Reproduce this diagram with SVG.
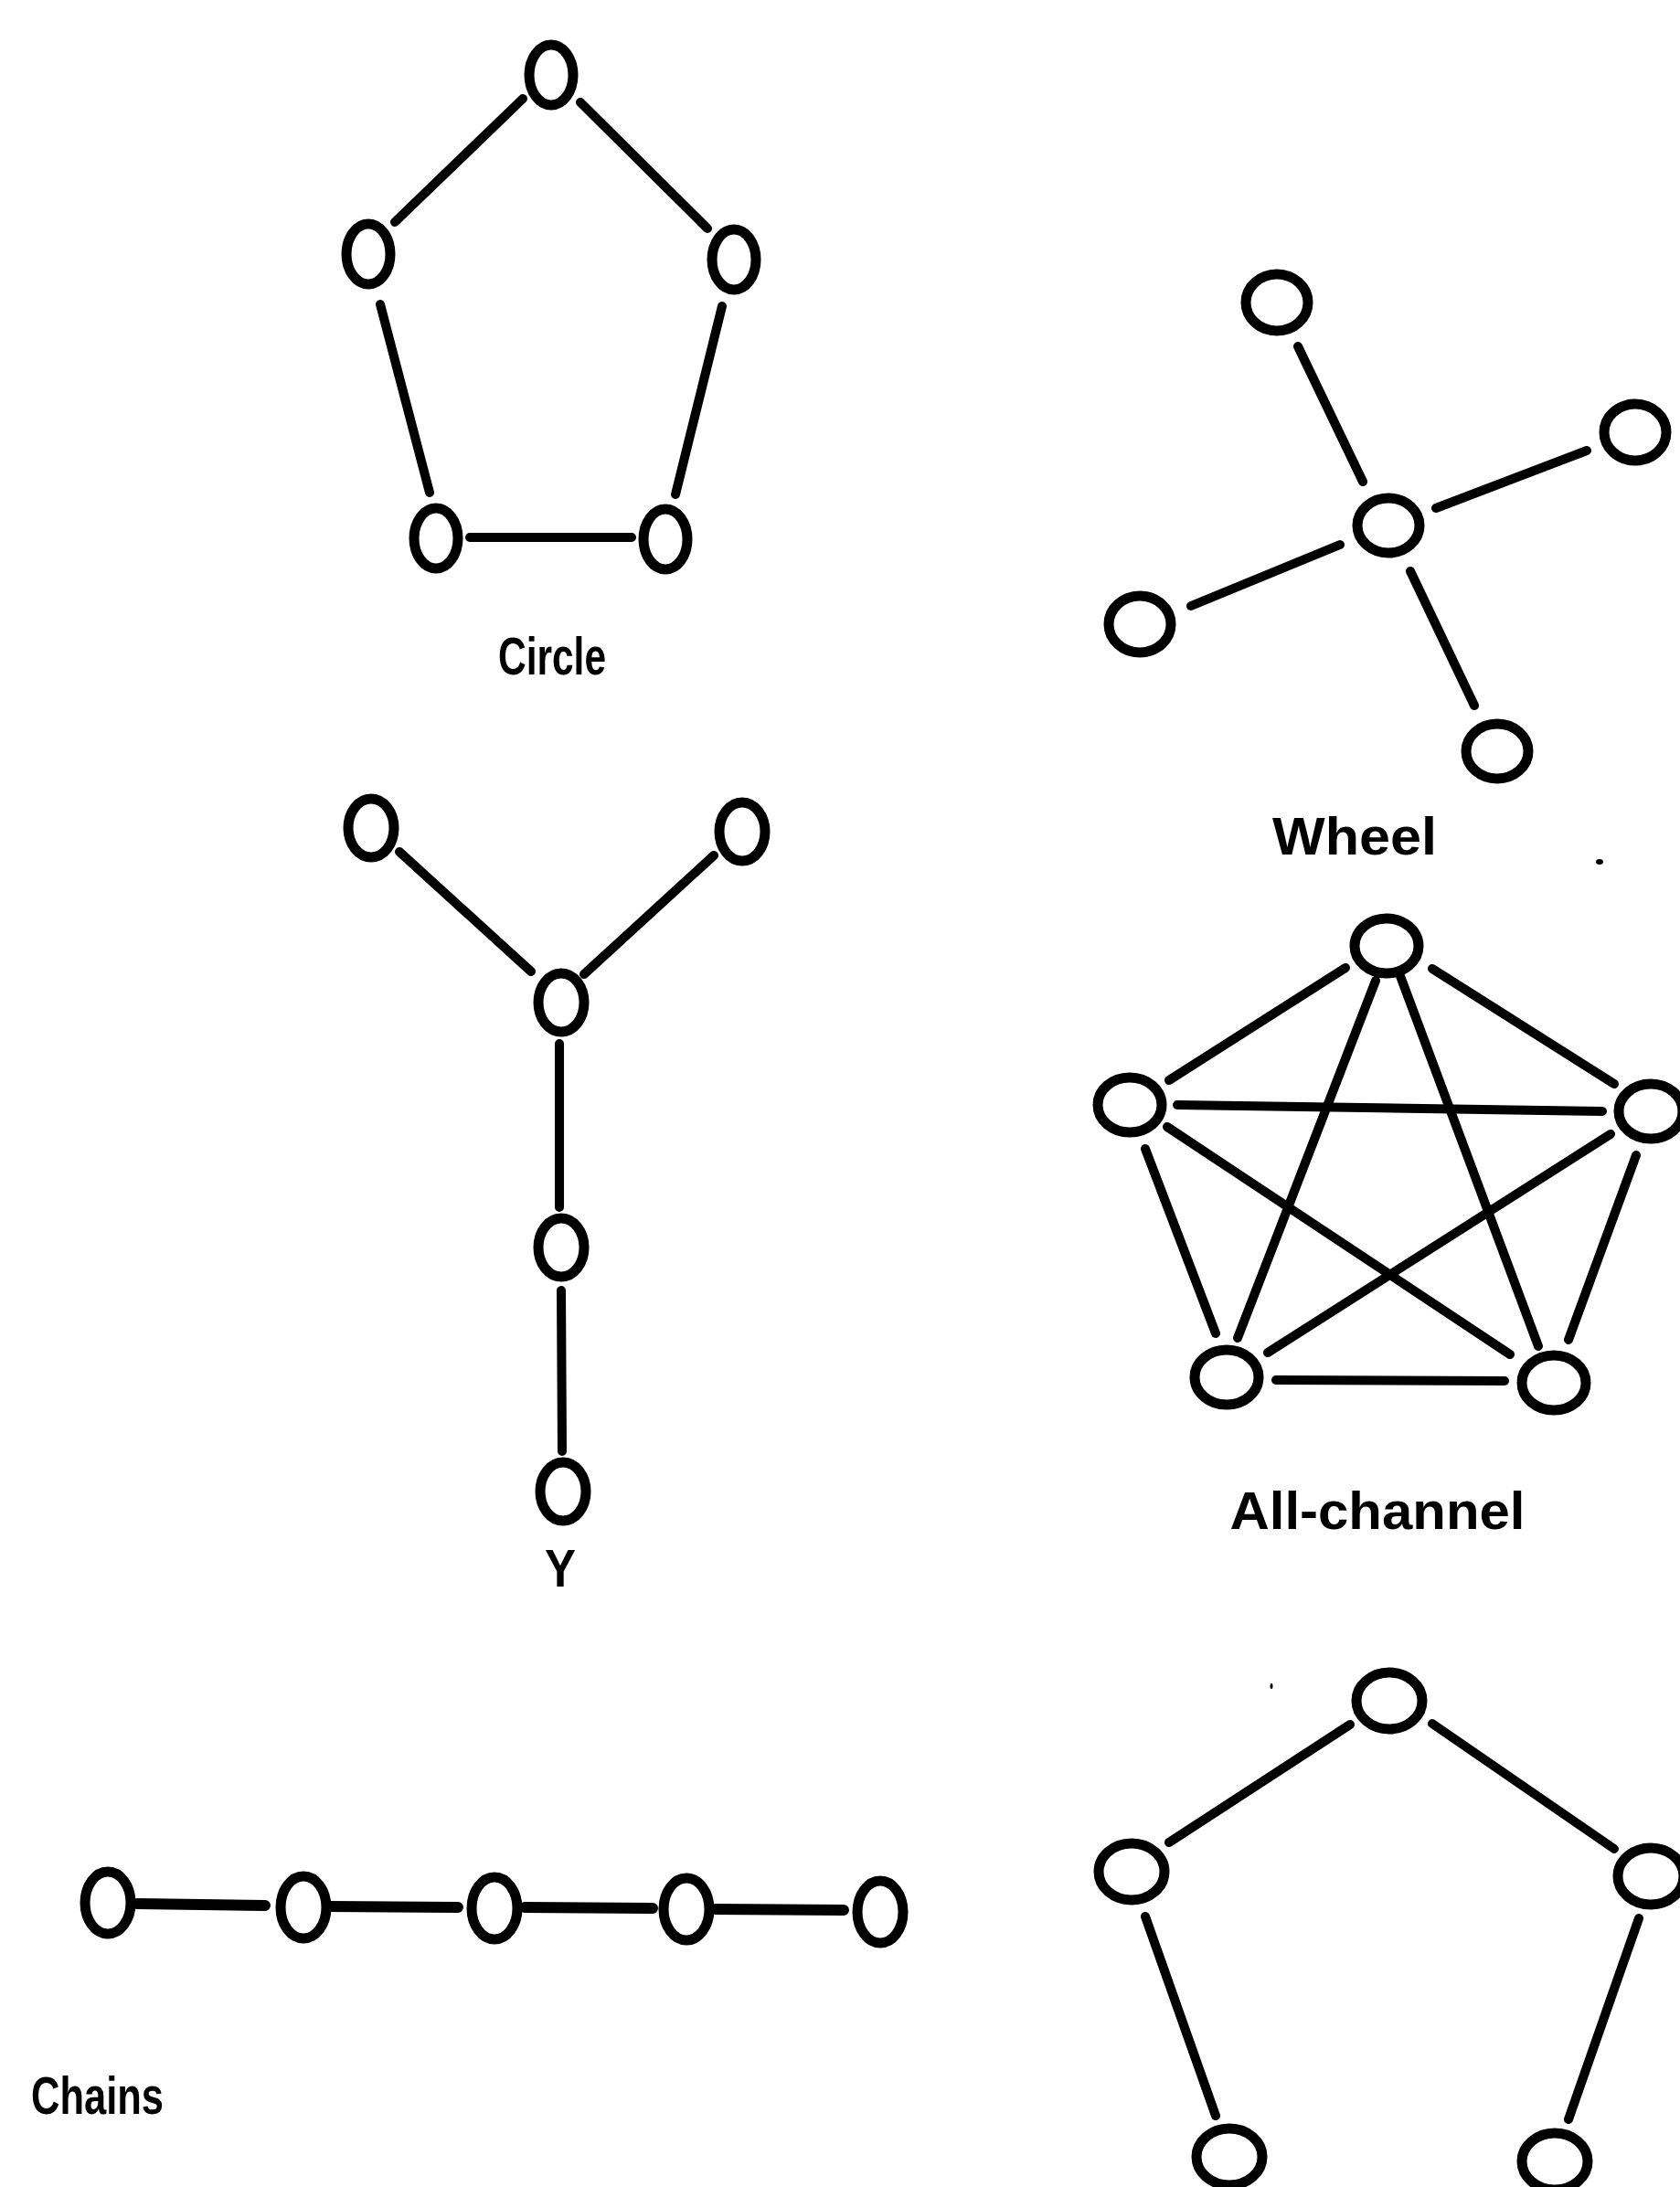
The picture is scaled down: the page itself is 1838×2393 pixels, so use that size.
<svg xmlns="http://www.w3.org/2000/svg" width="1838" height="2393" viewBox="0 0 1838 2393">
  <style>
    .node { fill: none; stroke: #000; stroke-width: 11; }
    .edge { fill: none; stroke: #000; stroke-width: 10; stroke-linecap: round; }
    .edge.heavy { stroke-width: 12; }
    .label { font-family: "Liberation Sans", Arial, sans-serif; font-weight: bold; font-size: 58px; fill: #000; }
    .speck { fill: #000; }
  </style>
  <rect x="0" y="0" width="1838" height="2393" fill="#fff"/>

  <!-- all connectors -->
  <g id="connectors">
    <!-- circle network -->
    <line class="edge" x1="572" y1="108" x2="432" y2="243"/>
    <line class="edge" x1="635" y1="112" x2="774" y2="250"/>
    <line class="edge" x1="416" y1="333" x2="470" y2="539"/>
    <line class="edge" x1="790" y1="335" x2="739" y2="541"/>
    <line class="edge" x1="514" y1="588" x2="691" y2="588"/>
    <!-- wheel network -->
    <line class="edge" x1="1420" y1="379" x2="1491" y2="527"/>
    <line class="edge" x1="1571" y1="556" x2="1736" y2="493"/>
    <line class="edge" x1="1303" y1="663" x2="1466" y2="596"/>
    <line class="edge" x1="1543" y1="625" x2="1613" y2="772"/>
    <!-- all-channel network -->
    <line class="edge" x1="1472" y1="1059" x2="1279" y2="1182"/>
    <line class="edge" x1="1567" y1="1060" x2="1766" y2="1186"/>
    <line class="edge" x1="1288" y1="1209" x2="1753" y2="1216"/>
    <line class="edge" x1="1505" y1="1073" x2="1354" y2="1464"/>
    <line class="edge" x1="1532" y1="1068" x2="1683" y2="1473"/>
    <line class="edge" x1="1277" y1="1233" x2="1652" y2="1482"/>
    <line class="edge" x1="1762" y1="1241" x2="1387" y2="1480"/>
    <line class="edge" x1="1253" y1="1257" x2="1330" y2="1459"/>
    <line class="edge" x1="1790" y1="1264" x2="1716" y2="1466"/>
    <line class="edge" x1="1396" y1="1510" x2="1646" y2="1511"/>
    <!-- Y network -->
    <line class="edge" x1="437" y1="932" x2="581" y2="1063"/>
    <line class="edge" x1="781" y1="936" x2="639" y2="1066"/>
    <line class="edge" x1="612" y1="1142" x2="612" y2="1321"/>
    <line class="edge" x1="614" y1="1412" x2="615" y2="1588"/>
    <!-- chain network -->
    <line class="edge heavy" x1="150" y1="2083" x2="290" y2="2085"/>
    <line class="edge heavy" x1="360" y1="2086" x2="501" y2="2087"/>
    <line class="edge heavy" x1="574" y1="2087" x2="714" y2="2088"/>
    <line class="edge heavy" x1="783" y1="2089" x2="923" y2="2090"/>
    <!-- open pentagon -->
    <line class="edge" x1="1477" y1="1887" x2="1279" y2="2016"/>
    <line class="edge" x1="1567" y1="1886" x2="1766" y2="2023"/>
    <line class="edge" x1="1253" y1="2097" x2="1330" y2="2315"/>
    <line class="edge" x1="1793" y1="2099" x2="1716" y2="2319"/>
  </g>

  <!-- circle network -->
  <g id="circle">
    <g id="circle-n1"><ellipse class="node" cx="603" cy="82" rx="24" ry="33"/></g>
    <g id="circle-n2"><ellipse class="node" cx="403" cy="278" rx="24" ry="33"/></g>
    <g id="circle-n3"><ellipse class="node" cx="803" cy="284" rx="24" ry="33"/></g>
    <g id="circle-n4"><ellipse class="node" cx="477" cy="589" rx="24" ry="33"/></g>
    <g id="circle-n5"><ellipse class="node" cx="728" cy="590" rx="24" ry="33"/></g>
    <text class="label" x="604" y="738" text-anchor="middle" textLength="118" lengthAdjust="spacingAndGlyphs">Circle</text>
  </g>

  <!-- wheel network -->
  <g id="wheel">
    <g id="wheel-top"><ellipse class="node" cx="1397" cy="331" rx="34" ry="31"/></g>
    <g id="wheel-right"><ellipse class="node" cx="1789" cy="473" rx="34" ry="31"/></g>
    <g id="wheel-hub"><ellipse class="node" cx="1519" cy="575" rx="34" ry="30"/></g>
    <g id="wheel-left"><ellipse class="node" cx="1247" cy="683" rx="34" ry="31"/></g>
    <g id="wheel-bottom"><ellipse class="node" cx="1638" cy="822" rx="34" ry="30"/></g>
    <text class="label" x="1482" y="935" text-anchor="middle" textLength="180" lengthAdjust="spacingAndGlyphs">Wheel</text>
    <ellipse class="speck" cx="1750" cy="943" rx="4" ry="3"/>
  </g>

  <!-- all-channel network -->
  <g id="all-channel">
    <g id="ac-top"><ellipse class="node" cx="1517" cy="1035" rx="35" ry="30"/></g>
    <g id="ac-left"><ellipse class="node" cx="1236" cy="1209" rx="35" ry="30"/></g>
    <g id="ac-right"><ellipse class="node" cx="1806" cy="1216" rx="35" ry="30"/></g>
    <g id="ac-bottom-left"><ellipse class="node" cx="1342" cy="1507" rx="35" ry="30"/></g>
    <g id="ac-bottom-right"><ellipse class="node" cx="1700" cy="1513" rx="35" ry="30"/></g>
    <text class="label" x="1507" y="1673" text-anchor="middle" textLength="323" lengthAdjust="spacingAndGlyphs">All-channel</text>
  </g>

  <!-- Y network -->
  <g id="y-network">
    <g id="y-top-left"><ellipse class="node" cx="406" cy="906" rx="25" ry="32"/></g>
    <g id="y-top-right"><ellipse class="node" cx="812" cy="910" rx="25" ry="32"/></g>
    <g id="y-fork"><ellipse class="node" cx="614" cy="1097" rx="25" ry="32"/></g>
    <g id="y-middle"><ellipse class="node" cx="614" cy="1365" rx="25" ry="32"/></g>
    <g id="y-bottom"><ellipse class="node" cx="616" cy="1632" rx="25" ry="32"/></g>
    <text class="label" x="613" y="1736" text-anchor="middle" textLength="34" lengthAdjust="spacingAndGlyphs">Y</text>
  </g>

  <!-- chain network -->
  <g id="chain">
    <g id="chain-1"><ellipse class="node" cx="118" cy="2082" rx="25" ry="34"/></g>
    <g id="chain-2"><ellipse class="node" cx="332" cy="2087" rx="25" ry="34"/></g>
    <g id="chain-3"><ellipse class="node" cx="541" cy="2088" rx="25" ry="34"/></g>
    <g id="chain-4"><ellipse class="node" cx="751" cy="2089" rx="25" ry="34"/></g>
    <g id="chain-5"><ellipse class="node" cx="963" cy="2092" rx="25" ry="34"/></g>
    <text class="label" x="34" y="2313" textLength="145" lengthAdjust="spacingAndGlyphs">Chains</text>
  </g>

  <!-- open pentagon -->
  <g id="pentagon">
    <g id="pent-top"><ellipse class="node" cx="1520" cy="1861" rx="36" ry="31"/></g>
    <g id="pent-left"><ellipse class="node" cx="1238" cy="2048" rx="36" ry="31"/></g>
    <g id="pent-right"><ellipse class="node" cx="1806" cy="2053" rx="36" ry="31"/></g>
    <g id="pent-bottom-left"><ellipse class="node" cx="1345" cy="2360" rx="36" ry="31"/></g>
    <g id="pent-bottom-right"><ellipse class="node" cx="1701" cy="2365" rx="36" ry="31"/></g>
    <ellipse class="speck" cx="1391" cy="1845" rx="1.5" ry="3"/>
  </g>
</svg>
